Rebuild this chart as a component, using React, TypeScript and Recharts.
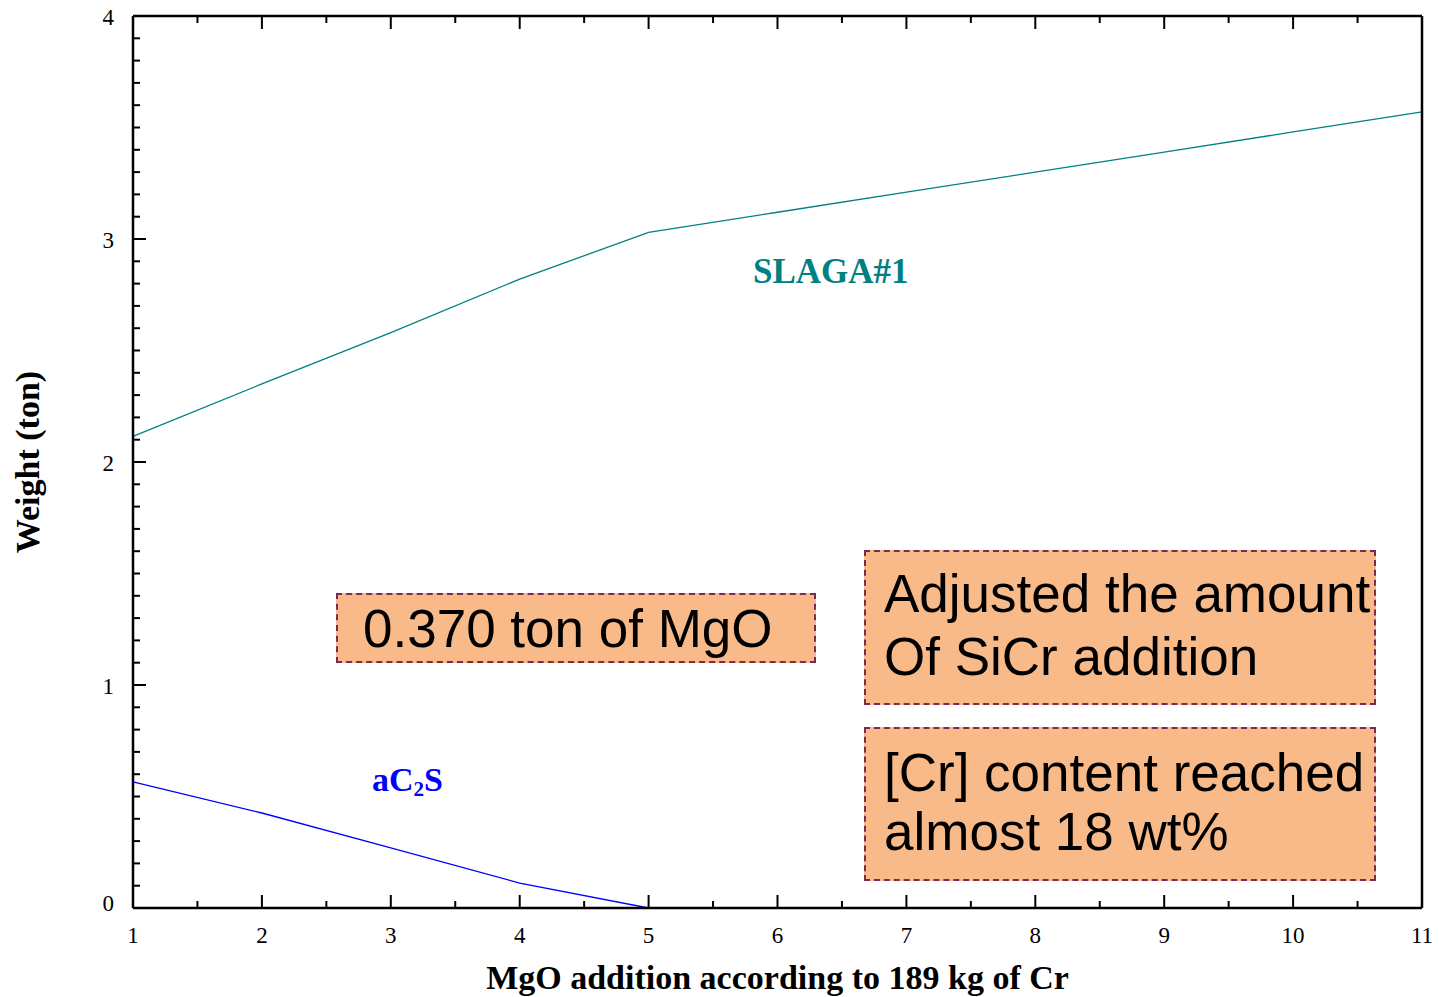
import React from 'react'
import { LineChart, Line, XAxis, YAxis } from 'recharts'

// MgO addition steps (x) and computed phase weights (ton)
const mgoSteps = [1, 2, 3, 4, 5, 6, 7, 8, 9, 10, 11]
const slagaWeight = [2.115, 2.35, 2.58, 2.82, 3.03, 3.12, 3.21, 3.3, 3.39, 3.48, 3.57]
const ac2sWeight = [0.566, 0.426, 0.27, 0.112, 0]

const xTicks = Array.from({ length: 21 }, (_, i) => 1 + i / 2)
const yTicks = Array.from({ length: 41 }, (_, i) => i / 10)

const data = mgoSteps.map((x, i) => ({
  x,
  slaga: slagaWeight[i],
  ac2s: i < ac2sWeight.length ? ac2sWeight[i] : null,
}))

const TICK_FONT = '"Liberation Serif", "Times New Roman", serif'
const isMajor = (v: number) => Math.abs(v - Math.round(v)) < 1e-6

const BottomTick = ({ x, y, payload }: any) => {
  const major = isMajor(payload.value)
  return (
    <g>
      <line x1={x} x2={x} y1={y} y2={y - (major ? 13 : 7)} stroke="#000" strokeWidth={2} />
      {major && (
        <text x={x} y={y + 35} textAnchor="middle" fontSize={23} fontFamily={TICK_FONT} fill="#000">
          {Math.round(payload.value)}
        </text>
      )}
    </g>
  )
}

const TopTick = ({ x, y, payload }: any) => (
  <line x1={x} x2={x} y1={y} y2={y + (isMajor(payload.value) ? 13 : 7)} stroke="#000" strokeWidth={2} />
)

const LeftTick = ({ x, y, payload }: any) => {
  const major = isMajor(payload.value)
  const v = Math.round(payload.value)
  return (
    <g>
      <line x1={x} x2={x + (major ? 13 : 7)} y1={y} y2={y} stroke="#000" strokeWidth={2} />
      {major && (
        <text x={x - 19} y={y + (v === 0 ? 3 : 9)} textAnchor="end" fontSize={23} fontFamily={TICK_FONT} fill="#000">
          {v}
        </text>
      )}
    </g>
  )
}

const RightTick = ({ x, y, payload }: any) => (
  <line x1={x} x2={x - (isMajor(payload.value) ? 13 : 7)} y1={y} y2={y} stroke="#000" strokeWidth={2} />
)

const boxStyle: React.CSSProperties = {
  position: 'absolute',
  boxSizing: 'border-box',
  background: '#F9BA8A',
  border: '2px dashed #82284F',
  fontFamily: '"Liberation Sans", Arial, sans-serif',
  fontSize: 53,
  color: '#000',
  whiteSpace: 'nowrap',
}

export default function App() {
  return (
    <div style={{ position: 'absolute', left: 0, top: 0, width: 1439, height: 997, background: '#fff' }}>
      <LineChart width={1439} height={997} data={data} margin={{ top: 0, right: 0, bottom: 0, left: 0 }}>
        <XAxis
          dataKey="x"
          type="number"
          domain={[1, 11]}
          ticks={xTicks}
          interval={0}
          height={89}
          tickSize={0}
          tickMargin={0}
          tick={<BottomTick />}
          axisLine={{ stroke: '#000', strokeWidth: 2.5 }}
          label={{
            value: 'MgO addition according to 189 kg of Cr',
            position: 'insideBottom',
            offset: 8,
            style: { fontFamily: TICK_FONT, fontWeight: 'bold', fontSize: 34, fill: '#000' },
          }}
        />
        <XAxis
          xAxisId="top"
          orientation="top"
          dataKey="x"
          type="number"
          domain={[1, 11]}
          ticks={xTicks}
          interval={0}
          height={16}
          tickSize={0}
          tickMargin={0}
          tick={<TopTick />}
          axisLine={{ stroke: '#000', strokeWidth: 2.5 }}
        />
        <YAxis
          type="number"
          domain={[0, 4]}
          ticks={yTicks}
          interval={0}
          width={133}
          tickSize={0}
          tickMargin={0}
          tick={<LeftTick />}
          axisLine={{ stroke: '#000', strokeWidth: 2.5 }}
          label={{
            value: 'Weight (ton)',
            angle: -90,
            position: 'insideLeft',
            offset: 27,
            style: { textAnchor: 'middle', fontFamily: TICK_FONT, fontWeight: 'bold', fontSize: 34, fill: '#000' },
          }}
        />
        <YAxis
          yAxisId="right"
          orientation="right"
          type="number"
          domain={[0, 4]}
          ticks={yTicks}
          interval={0}
          width={17}
          tickSize={0}
          tickMargin={0}
          tick={<RightTick />}
          axisLine={{ stroke: '#000', strokeWidth: 2.5 }}
        />
        <Line dataKey="slaga" stroke="#008080" strokeWidth={1.3} dot={false} isAnimationActive={false} />
        <Line dataKey="ac2s" stroke="#0000FF" strokeWidth={1.3} dot={false} isAnimationActive={false} />
      </LineChart>

      <div
        style={{
          position: 'absolute',
          left: 753,
          top: 254,
          fontFamily: TICK_FONT,
          fontWeight: 'bold',
          fontSize: 35,
          lineHeight: 1,
          color: '#008080',
        }}
      >
        SLAGA#1
      </div>
      <div
        style={{
          position: 'absolute',
          left: 372,
          top: 763,
          fontFamily: TICK_FONT,
          fontWeight: 'bold',
          fontSize: 34,
          lineHeight: 1,
          color: '#0000FF',
        }}
      >
        aC<sub style={{ fontSize: '0.62em', verticalAlign: '-0.22em', lineHeight: 1 }}>2</sub>S
      </div>

      <div
        style={{
          ...boxStyle,
          left: 336,
          top: 593,
          width: 480,
          height: 70,
          paddingLeft: 25,
          display: 'flex',
          alignItems: 'center',
          lineHeight: 1,
        }}
      >
        0.370 ton of MgO
      </div>
      <div style={{ ...boxStyle, left: 864, top: 550, width: 512, height: 155, paddingLeft: 18, paddingTop: 10, lineHeight: '63px' }}>
        Adjusted the amount
        <br />
        Of SiCr addition
      </div>
      <div style={{ ...boxStyle, left: 864, top: 727, width: 512, height: 154, paddingLeft: 18, paddingTop: 14, lineHeight: '59px' }}>
        [Cr] content reached
        <br />
        almost 18 wt%
      </div>
    </div>
  )
}
